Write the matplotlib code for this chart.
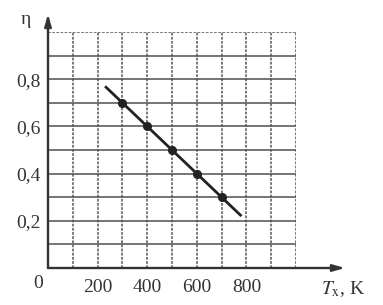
import matplotlib
matplotlib.use("Agg")
import matplotlib.pyplot as plt
import numpy as np

# Data
T_points = [300, 400, 500, 600, 700]
eta_points = [0.7, 0.6, 0.5, 0.4, 0.3]
T_line = [230, 780]
eta_line = [0.77, 0.22]
x_tick_vals = [200, 400, 600, 800]
x_tick_labels = ["200", "400", "600", "800"]
y_tick_vals = [0.2, 0.4, 0.6, 0.8]
y_tick_labels = ["0,2", "0,4", "0,6", "0,8"]

plt.rcParams['font.family'] = ['Liberation Serif', 'DejaVu Serif']
plt.rcParams['mathtext.fontset'] = 'stix'

W, H = 383, 305
fig = plt.figure(figsize=(W / 100, H / 100), dpi=100)
x0, y0, x1, y1 = 48, 268, 296, 32
ax = fig.add_axes([x0 / W, (H - y0) / H, (x1 - x0) / W, (y0 - y1) / H])
ax.set_xlim(0, 1000)
ax.set_ylim(0, 1.0)
for s in ax.spines.values():
    s.set_visible(False)

grid_c = "#6e6e6e"
# vertical dotted grid
for xv in np.arange(100, 1001, 100):
    ax.axvline(xv, color=grid_c, lw=1.3, ls=(0, (1.5, 0.8)), zorder=1)
# horizontal solid grid
for yv in np.arange(0.1, 0.95, 0.1):
    ax.axhline(yv, color="#505050", lw=1.1, zorder=1)
ax.axhline(1.0, color=grid_c, lw=1.3, ls=(0, (1.5, 0.8)), zorder=1)

# axes with arrows
ax.annotate("", xy=(345 / W, (H - y0) / H), xytext=(x0 / W, (H - y0) / H),
            xycoords="figure fraction",
            arrowprops=dict(arrowstyle="-|>,head_length=0.7,head_width=0.2", color="#333333", lw=1.7,
                            shrinkA=0, shrinkB=0))
ax.annotate("", xy=(x0 / W, (H - 14) / H), xytext=(x0 / W, (H - y0) / H),
            xycoords="figure fraction",
            arrowprops=dict(arrowstyle="-|>,head_length=0.7,head_width=0.2", color="#333333", lw=1.7,
                            shrinkA=0, shrinkB=0))

# data
ax.plot(T_line, eta_line, color="#222222", lw=2.0, zorder=3, solid_capstyle="butt")
ax.plot(T_points, eta_points, "o", color="#222222", ms=5.5, zorder=4)

fs = 14
ax.set_xticks(x_tick_vals)
ax.set_xticklabels(x_tick_labels)
ax.set_yticks(y_tick_vals)
ax.set_yticklabels(y_tick_labels)
ax.tick_params(axis="both", length=0, labelsize=fs, colors="#333333")
ax.tick_params(axis="x", pad=8)
ax.tick_params(axis="y", pad=5)

fig.text(38 / W, (H - 284) / H, "0", ha="center", va="center", fontsize=fs, color="#333333")
fig.text(26 / W, (H - 20) / H, "η", ha="center", va="center", fontsize=fs, color="#333333")
fig.text(343 / W, (H - 289) / H, r"$T_{\mathrm{x}}$, K", ha="center", va="center",
         fontsize=fs, color="#333333")

fig.savefig("out.png", dpi=100)
